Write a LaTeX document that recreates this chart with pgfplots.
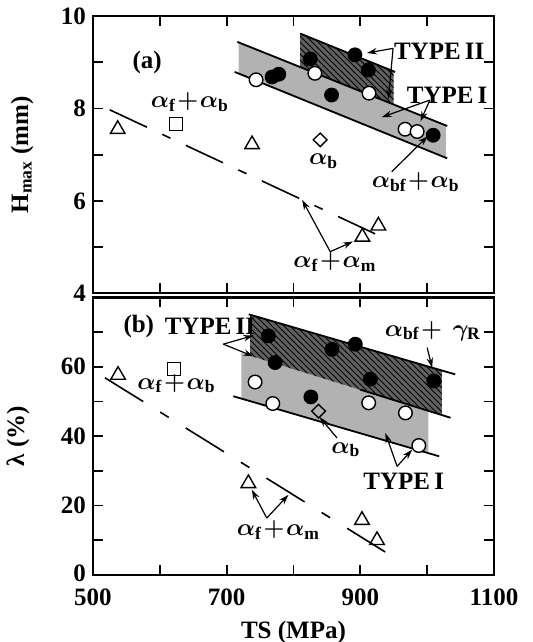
\documentclass[border=0pt]{standalone}
\usepackage{fontspec}
\setmainfont{Liberation Serif}
\usepackage{pgfplots}
\pgfplotsset{compat=1.18}
\usetikzlibrary{patterns,arrows.meta}

\newcommand{\fnt}{\fontsize{12.5}{15}\selectfont\bfseries\boldmath}
\tikzset{lab/.style={font=\fnt, inner sep=0pt}}
\pgfplotsset{
  panel/.style={
    width=200.5pt, scale only axis, xmin=500, xmax=1100,
    xtick={500,600,...,1100},
    tick align=inside, major tick length=5pt,
    every tick/.style={line width=0.9pt, black},
    axis line style={line width=1.2pt},
    xtick pos=both, ytick pos=both,
    ticklabel style={font=\fnt},
    /pgf/number format/assume math mode=true,
    label style={font=\fnt},
    clip=false,
  },
  opc/.style={only marks, mark=*, mark size=3.4pt, mark options={fill=white, draw=black, line width=0.7pt}},
  fic/.style={only marks, mark=*, mark size=3.5pt, mark options={fill=black, draw=black}},
  tri/.style={only marks, mark=triangle, mark size=4.2pt, mark options={line width=0.7pt, black}},
  sqr/.style={only marks, mark=square, mark size=3.2pt, mark options={line width=0.7pt, black, fill=white}},
  dia/.style={only marks, mark=diamond, mark size=3.4pt, mark options={line width=0.7pt, black, fill=white, xscale=1.35}},
  stip/.style={draw=none, fill=black!30},
  dark/.style={draw=none, fill=black!62},
  bl/.style={black, line width=0.9pt, no marks},
  arr/.style={black, line width=0.6pt, no marks, -{Stealth[length=5pt,width=3.2pt]}},
}

\begin{document}
\begin{tikzpicture}
\path[use as bounding box] (-46.5pt,-33.5pt) rectangle (220pt,287.5pt);

% ---------------- top panel (a)
\begin{axis}[panel, at={(0pt,140.85pt)}, anchor=south west, height=138.65pt,
  ymin=4, ymax=10, ytick={4,5,...,10}, yticklabels={4,,6,,8,,10},
  xticklabels={},
  ylabel={H\textsubscript{max} (mm)},
  ylabel style={at={(axis description cs:-0.177,0.5)}, anchor=center}]
% bands
\addplot[stip] coordinates {(718,9.43) (1028,7.63) (1028,6.93) (718,8.755)} -- cycle;
\addplot[dark] coordinates {(810,9.62) (950,8.80) (950,8.083) (810,8.895)} -- cycle;
\addplot[dark, pattern=north west lines, pattern color=black] coordinates {(810,9.62) (950,8.80) (950,8.083) (810,8.895)} -- cycle;
\addplot[bl] coordinates {(716,9.44) (1030,7.62)};
\addplot[bl] coordinates {(712,8.79) (1030,6.92)};
\addplot[bl] coordinates {(810,9.62) (952,8.79)};
% dashed trend
\addplot[black, line width=0.8pt, no marks, dash pattern=on 20.5pt off 8.5pt on 4.5pt off 8.5pt]
  coordinates {(525,7.97) (932,5.22)};
% points
\addplot[opc] coordinates {(744,8.62) (832,8.76) (913,8.33) (967,7.55) (985,7.50)};
\addplot[fic] coordinates {(768,8.68) (778,8.74) (825,9.07) (892,9.16) (912,8.83) (857,8.29) (1009,7.42)};
\addplot[tri] coordinates {(537,7.55) (738,7.22) (903,5.22) (927,5.46)};
\addplot[sqr] coordinates {(624,7.66)};
\addplot[dia] coordinates {(840,7.32)};
% arrows
\addplot[arr] coordinates {(949,9.30) (910,9.20)};
\addplot[arr] coordinates {(949,9.30) (942,8.20)};
\addplot[arr] coordinates {(1004,8.18) (932,7.81)};
\addplot[arr] coordinates {(1004,8.18) (990,7.72)};
\addplot[arr] coordinates {(947,6.63) (1001,7.40)};
\addplot[arr] coordinates {(855,4.90) (813,6.02)};
\addplot[arr] coordinates {(855,4.90) (889,5.12)};
% labels
\node[lab] at (axis cs:581,9.0) {(a)};
\node[lab] at (axis cs:645,8.14) {$\alpha_{\mathrm{f}}\!+\!\alpha_{\mathrm{b}}$};
\node[lab] at (axis cs:845,6.86) {$\alpha_{\mathrm{b}}$};
\node[lab] at (axis cs:1018,9.24) {TYPE\,II};
\node[lab] at (axis cs:1030,8.29) {TYPE\,I};
\node[lab] at (axis cs:983,6.41) {$\alpha_{\mathrm{bf}}\!+\!\alpha_{\mathrm{b}}$};
\node[lab] at (axis cs:862,4.68) {$\alpha_{\mathrm{f}}\!+\!\alpha_{\mathrm{m}}$};
\end{axis}

% ---------------- bottom panel (b)
\begin{axis}[panel, at={(0pt,0pt)}, anchor=south west, height=138.85pt,
  ymin=0, ymax=80, ytick={0,10,...,70}, yticklabels={\raisebox{2pt}{0},,20,,40,,60,},
  xticklabels={500,,700,,900,,1100},
  xticklabel style={yshift=-3.5pt},
  xlabel={TS (MPa)},
  xlabel style={at={(axis description cs:0.5,0)}, anchor=center, yshift=-28.5pt},
  ylabel={λ (\%)},
  ylabel style={at={(axis description cs:-0.187,0.5)}, anchor=center}]
% bands
\addplot[stip] coordinates {(722,64.08) (1002,47.28) (1002,35.09) (722,50.83)} -- cycle;
\addplot[dark] coordinates {(735,74.99) (1022,58.9) (1022,46.08) (735,63.18)} -- cycle;
\addplot[dark, pattern=north west lines, pattern color=black] coordinates {(735,74.99) (1022,58.9) (1022,46.08) (735,63.18)} -- cycle;
\addplot[bl] coordinates {(733,75.1) (1042,57.8)};
\addplot[bl] coordinates {(900,53.4) (1035,45.3)};
\addplot[bl] coordinates {(710,51.5) (1018,34.2)};
% dashed trend
\addplot[black, line width=0.8pt, no marks, dash pattern=on 22.5pt off 10pt on 5pt off 10pt]
  coordinates {(518,56.8) (940,6.3)};
% points
\addplot[opc] coordinates {(742.5,55.6) (769,49.4) (912.5,49.6) (967.5,46.7) (987.5,37.3)};
\addplot[fic] coordinates {(762.5,68.9) (772.5,61.2) (857.5,65.0) (892.5,66.5) (915,56.4) (826,51.3) (1010,55.9)};
\addplot[tri] coordinates {(537.5,57.6) (732.5,26.4) (902.5,15.8) (925,10.0)};
\addplot[sqr] coordinates {(621,59.4)};
\addplot[dia] coordinates {(837.5,47.2)};
% arrows
\addplot[arr] coordinates {(695,66.5) (740,69)};
\addplot[arr] coordinates {(695,66.5) (740,63)};
\addplot[arr] coordinates {(1000,65.5) (1007.5,59.7)};
\addplot[arr] coordinates {(865,39.5) (839,45.5)};
\addplot[arr] coordinates {(955,31.3) (937.5,40.9)};
\addplot[arr] coordinates {(955,31.3) (977.5,36.1)};
\addplot[arr] coordinates {(760,16.4) (737.5,24.6)};
\addplot[arr] coordinates {(760,16.4) (792.5,23.1)};
% labels
\node[lab] at (axis cs:568.5,71.6) {(b)};
\node[lab] at (axis cs:675,71.6) {TYPE\,II};
\node[lab] at (axis cs:625,55.2) {$\alpha_{\mathrm{f}}\!+\!\alpha_{\mathrm{b}}$};
\node[lab] at (axis cs:1008.5,70.3) {$\alpha_{\mathrm{bf}}\!+\,\gamma_{\mathrm{R}}$};
\node[lab] at (axis cs:878.5,36.1) {$\alpha_{\mathrm{b}}$};
\node[lab] at (axis cs:965,27) {TYPE\,I};
\node[lab] at (axis cs:777.5,13) {$\alpha_{\mathrm{f}}\!+\!\alpha_{\mathrm{m}}$};
\end{axis}
\end{tikzpicture}
\end{document}
